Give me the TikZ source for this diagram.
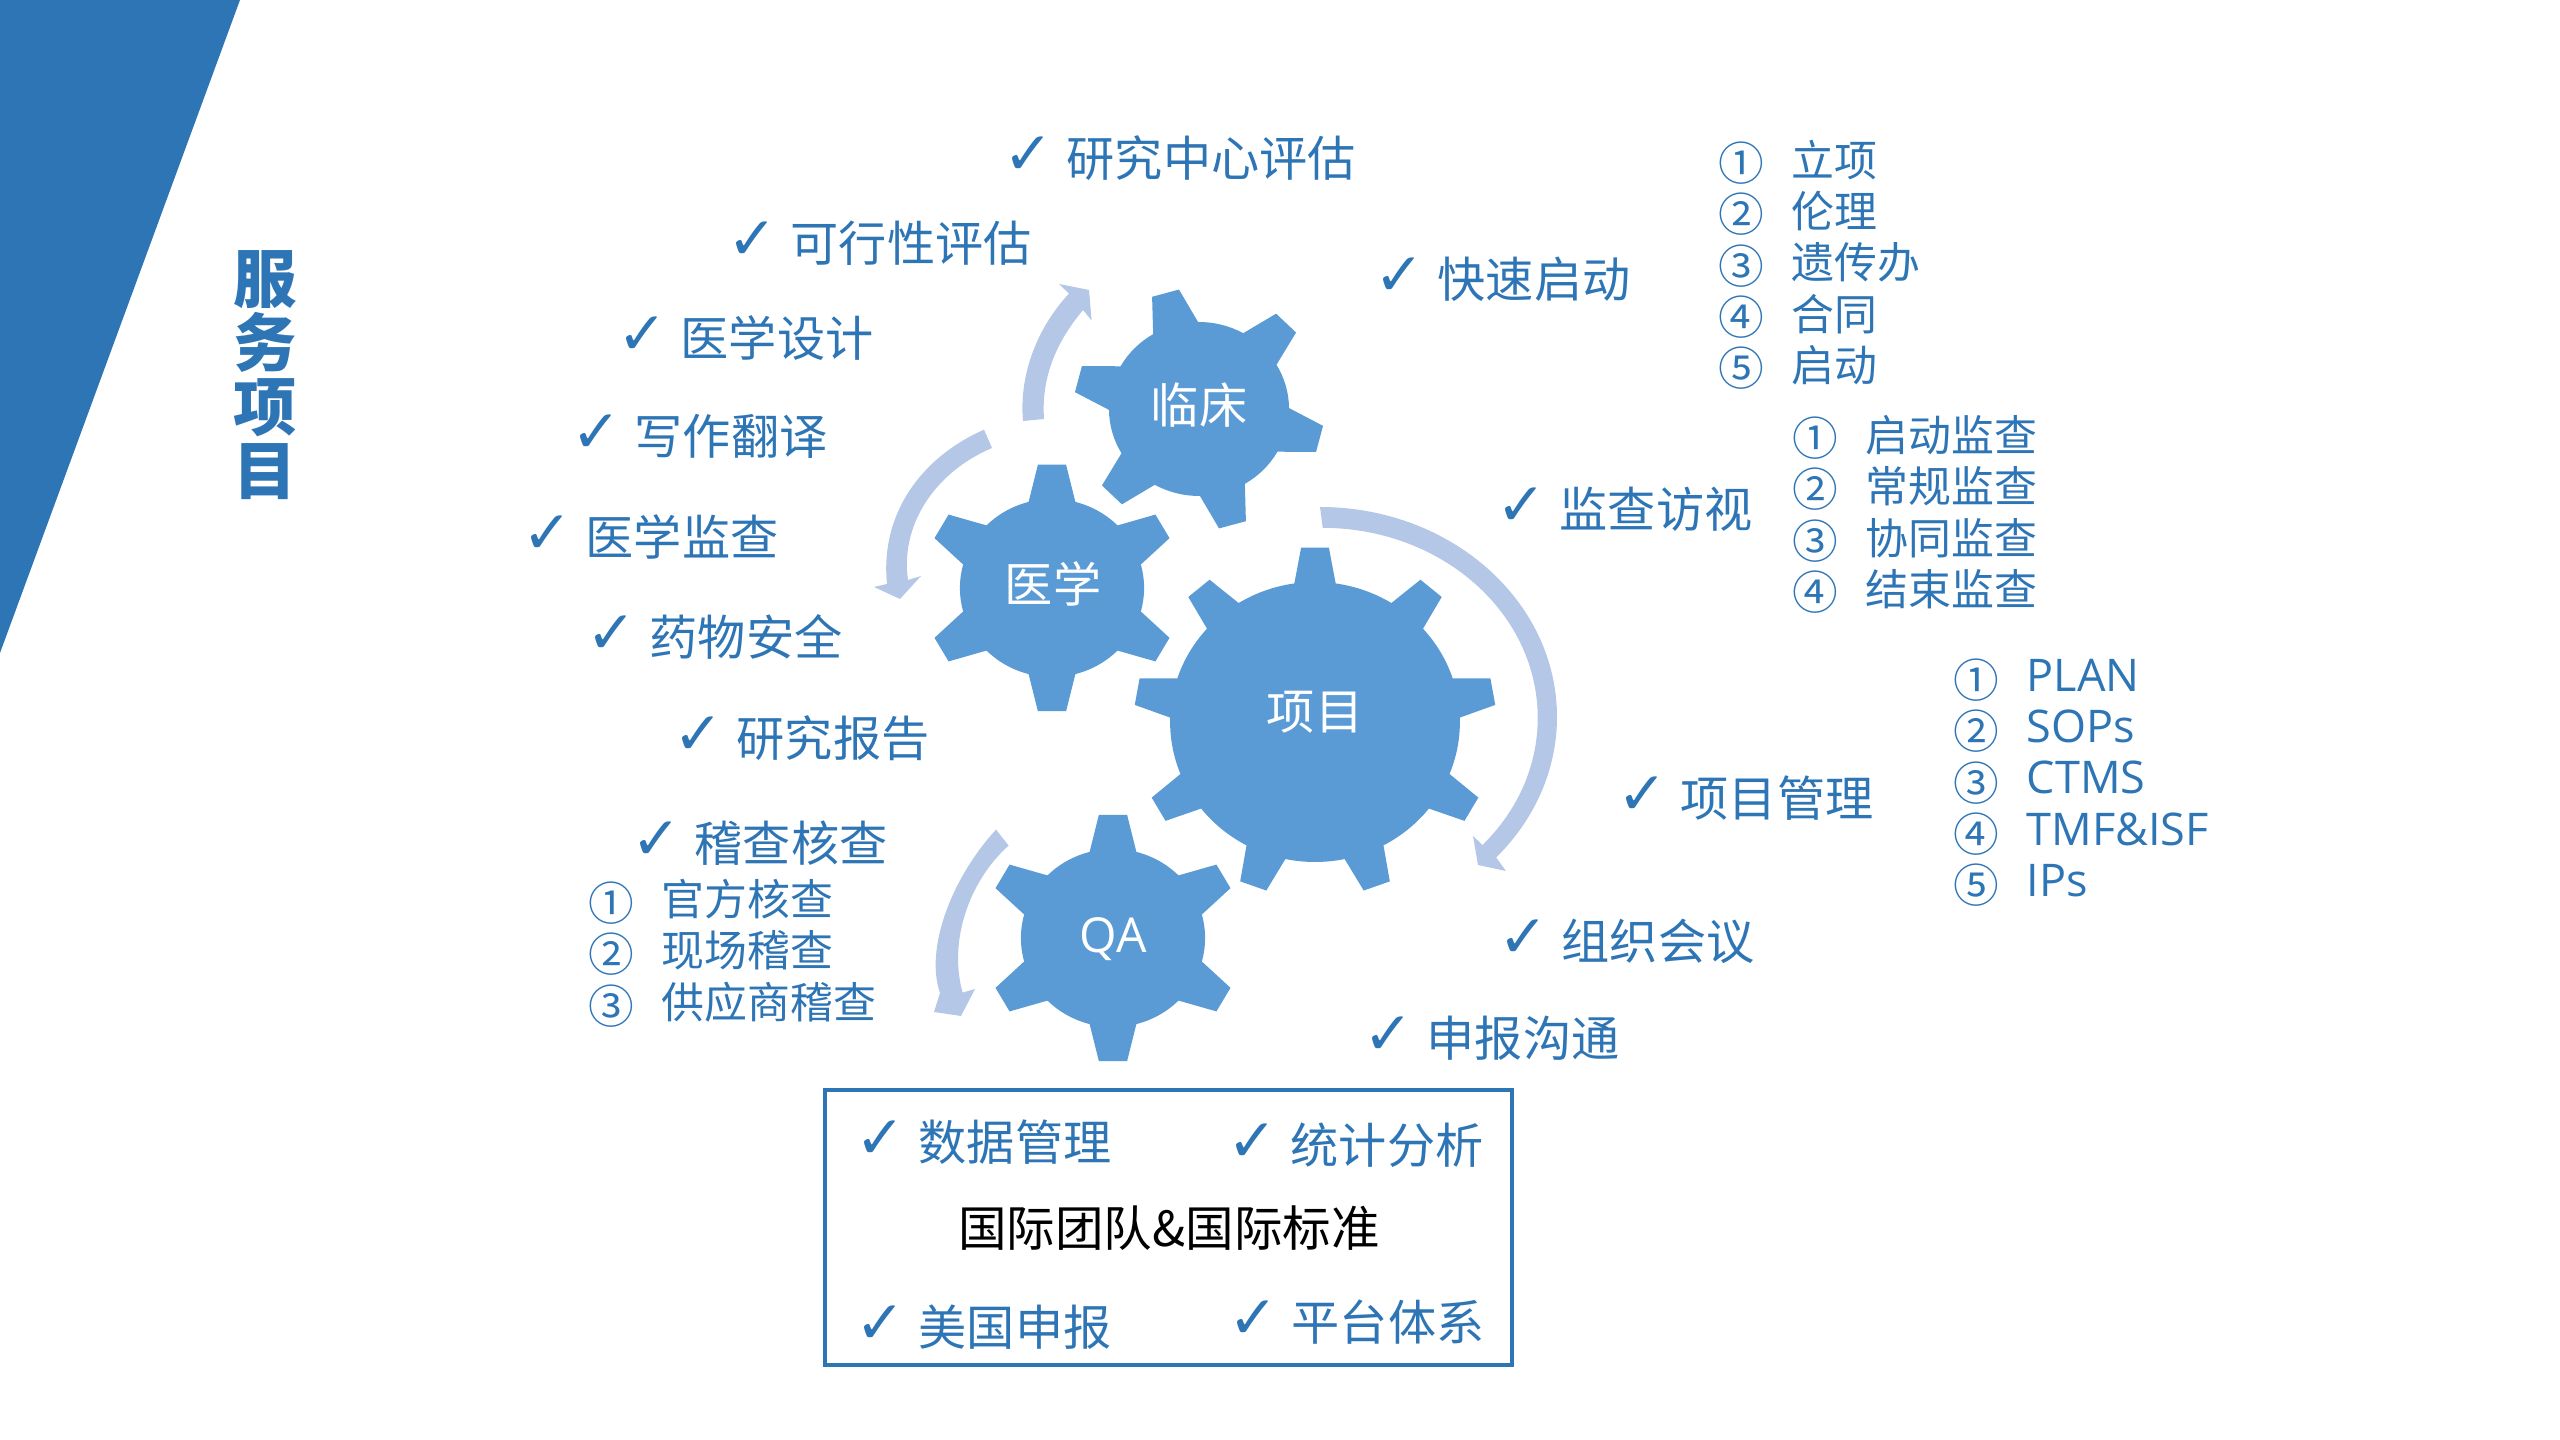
\documentclass[tikz,border=0pt]{standalone}
\usepackage{fontspec}
\setmainfont{Noto Sans CJK SC}
\newfontfamily\latinfont{Open Sans}
\newfontfamily\checkfont{DejaVu Sans}
\definecolor{textblue}{HTML}{2E75B6}
\definecolor{gearblue}{HTML}{5B9BD5}
\definecolor{arrowblue}{HTML}{B4C7E7}
\tikzset{
  item/.style={anchor=west, inner sep=0pt, text=textblue, font=\fontsize{13.7}{16}\selectfont,
    label={[check]left:✓}},
  check/.style={text=textblue, label distance=1.2mm, inner sep=0pt, yshift=0.2mm, font=\checkfont\fontsize{17}{19}\selectfont},
  sublabel/.style={anchor=west, inner sep=0pt, text=textblue, font=\fontsize{12.2}{14}\selectfont},
  subnum/.style={inner sep=0pt, text=textblue, yshift=-0.3mm, font=\fontsize{13}{15}\selectfont},
  gearlabel/.style={inner sep=0pt, text=white, font=\fontsize{13.7}{16}\selectfont},
  flowarrow/.style={fill=arrowblue, draw=none},
  gear/.style={fill=gearblue, draw=none}
}
% centre x, centre y, teeth, first tooth, tip radius, root radius, half angle at tip, half angle at root
\newcommand{\geardraw}[8]{
  \fill[gear] ({#1+1.035*(#5)*cos(#4-#7)},{#2+(#5)*sin(#4-#7)})
    \foreach \k in {1,...,#3}{
      -- ({#1+1.035*(#5)*cos(#4-#7+(\k-1)*360/#3)},{#2+(#5)*sin(#4-#7+(\k-1)*360/#3)})
      -- ({#1+1.035*(#5)*cos(#4+#7+(\k-1)*360/#3)},{#2+(#5)*sin(#4+#7+(\k-1)*360/#3)})
      -- ({#1+1.035*(#6)*cos(#4+#8+(\k-1)*360/#3)},{#2+(#6)*sin(#4+#8+(\k-1)*360/#3)})
      arc[x radius={1.035*(#6)}, y radius=#6, start angle={#4+#8+(\k-1)*360/#3}, end angle={#4-#8+\k*360/#3}]
    } -- cycle;
}
\begin{document}
\begin{tikzpicture}[x=0.01cm, y=-0.01cm]
  \useasboundingbox (0,0) rectangle (2560,1440);

  % corner and title
  \fill[textblue] (0,0) -- (240,0) -- (0,653) -- cycle;
  \node[inner sep=0pt, text=textblue, align=center, font=\fontsize{18}{18.2}\selectfont\bfseries] (title) at (265,375) {服\\务\\项\\目};

  % gears
  \geardraw{1315}{722}{9}{-90}{175}{140}{4.4}{8.2}
  \geardraw{1052}{588}{6}{-90}{124}{89}{6.3}{14.7}
  \geardraw{1199}{409}{6}{-105.6}{121}{87}{6.4}{15}
  \geardraw{1113}{938}{6}{-90}{124}{89}{6.3}{14.7}
  \node[gearlabel] (xiangmu) at (1315,712) {项目};
  \node[gearlabel] (yixue) at (1053,584) {医学};
  \node[gearlabel] (linchuang) at (1199,405) {临床};
  \node[gearlabel, font=\latinfont\fontsize{13.7}{16}\selectfont] (qa) at (1113,939) {QA};

  % arrows round the gears
  \fill[flowarrow] (1320,507) arc[x radius=237, y radius=210, start angle=-90, end angle=42]
    -- (1506,871) -- (1478,865) -- (1473,836) -- (1482.5,845)
    arc[x radius=215, y radius=190, start angle=42, end angle=-90] -- cycle;
  \fill[flowarrow] (1023,421) .. controls (1019,378) and (1035,330) .. (1069,293.6)
    -- (1059,284) -- (1089,290) -- (1091.6,320.5) -- (1083,310)
    .. controls (1058,340) and (1041,375) .. (1044,419) -- cycle;
  \fill[flowarrow] (984,429.7) .. controls (920,458) and (880,515) .. (887,584)
    -- (874,587) -- (900,599) -- (921,576) -- (908,580)
    .. controls (900,525) and (935,472) .. (992,448) -- cycle;
  \fill[flowarrow] (996,829.6) .. controls (950,880) and (925,950) .. (940,993)
    -- (934,1012) -- (961,1016) -- (975,989) -- (962.6,992.6)
    .. controls (948,940) and (970,880) .. (1008.6,845.6) -- cycle;

  % services
  \node[item] (center) at (1066,158) {研究中心评估};
  \node[item] (feasible) at (790,243) {可行性评估};
  \node[item] (design) at (680,338) {医学设计};
  \node[item] (writing) at (634,436) {写作翻译};
  \node[item] (medmon) at (585,537) {医学监查};
  \node[item] (safety) at (649,637) {药物安全};
  \node[item] (report) at (736,738) {研究报告};
  \node[item] (audit) at (694,843) {稽查核查};
  \node[item] (start) at (1437,279) {快速启动};
  \node[item] (visit) at (1559,509) {监查访视};
  \node[item] (pm) at (1680,798) {项目管理};
  \node[item] (meeting) at (1561,941) {组织会议};
  \node[item] (submit) at (1426,1038) {申报沟通};

  % lists
  \foreach \n/\t [count=\i from 0] in {①/立项,②/伦理,③/遗传办,④/合同,⑤/启动}{
    \node[subnum] (startnum\i) at (1741,160+51.4*\i) {\n};
    \node[sublabel] (startitem\i) at (1791,160+51.4*\i) {\t};
  }
  \foreach \n/\t [count=\i from 0] in {①/启动监查,②/常规监查,③/协同监查,④/结束监查}{
    \node[subnum] (visitnum\i) at (1815,435+51.4*\i) {\n};
    \node[sublabel] (visititem\i) at (1865,435+51.4*\i) {\t};
  }
  \foreach \n/\t [count=\i from 0] in {①/PLAN,②/SOPs,③/CTMS,④/TMF\&ISF,⑤/IPs}{
    \node[subnum] (pmnum\i) at (1976,677+51.4*\i) {\n};
    \node[sublabel, font=\latinfont\fontsize{12.8}{14}\selectfont] (pmitem\i) at (2026,675+51.4*\i) {\t};
  }
  \foreach \n/\t [count=\i from 0] in {①/官方核查,②/现场稽查,③/供应商稽查}{
    \node[subnum] (auditnum\i) at (611,900+51.4*\i) {\n};
    \node[sublabel] (audititem\i) at (661,899+51.4*\i) {\t};
  }

  % data box
  \draw[textblue, line width=1pt] (825,1090) rectangle (1512,1365);
  \node[item] (data) at (918,1142) {数据管理};
  \node[item] (stat) at (1290,1145) {统计分析};
  \node[item] (us) at (918,1327) {美国申报};
  \node[item] (platform) at (1291,1322) {平台体系};
  \node[inner sep=0pt, font=\fontsize{13.8}{16}\selectfont] (team) at (1169,1228) {国际团队\&国际标准};
\end{tikzpicture}
\end{document}
